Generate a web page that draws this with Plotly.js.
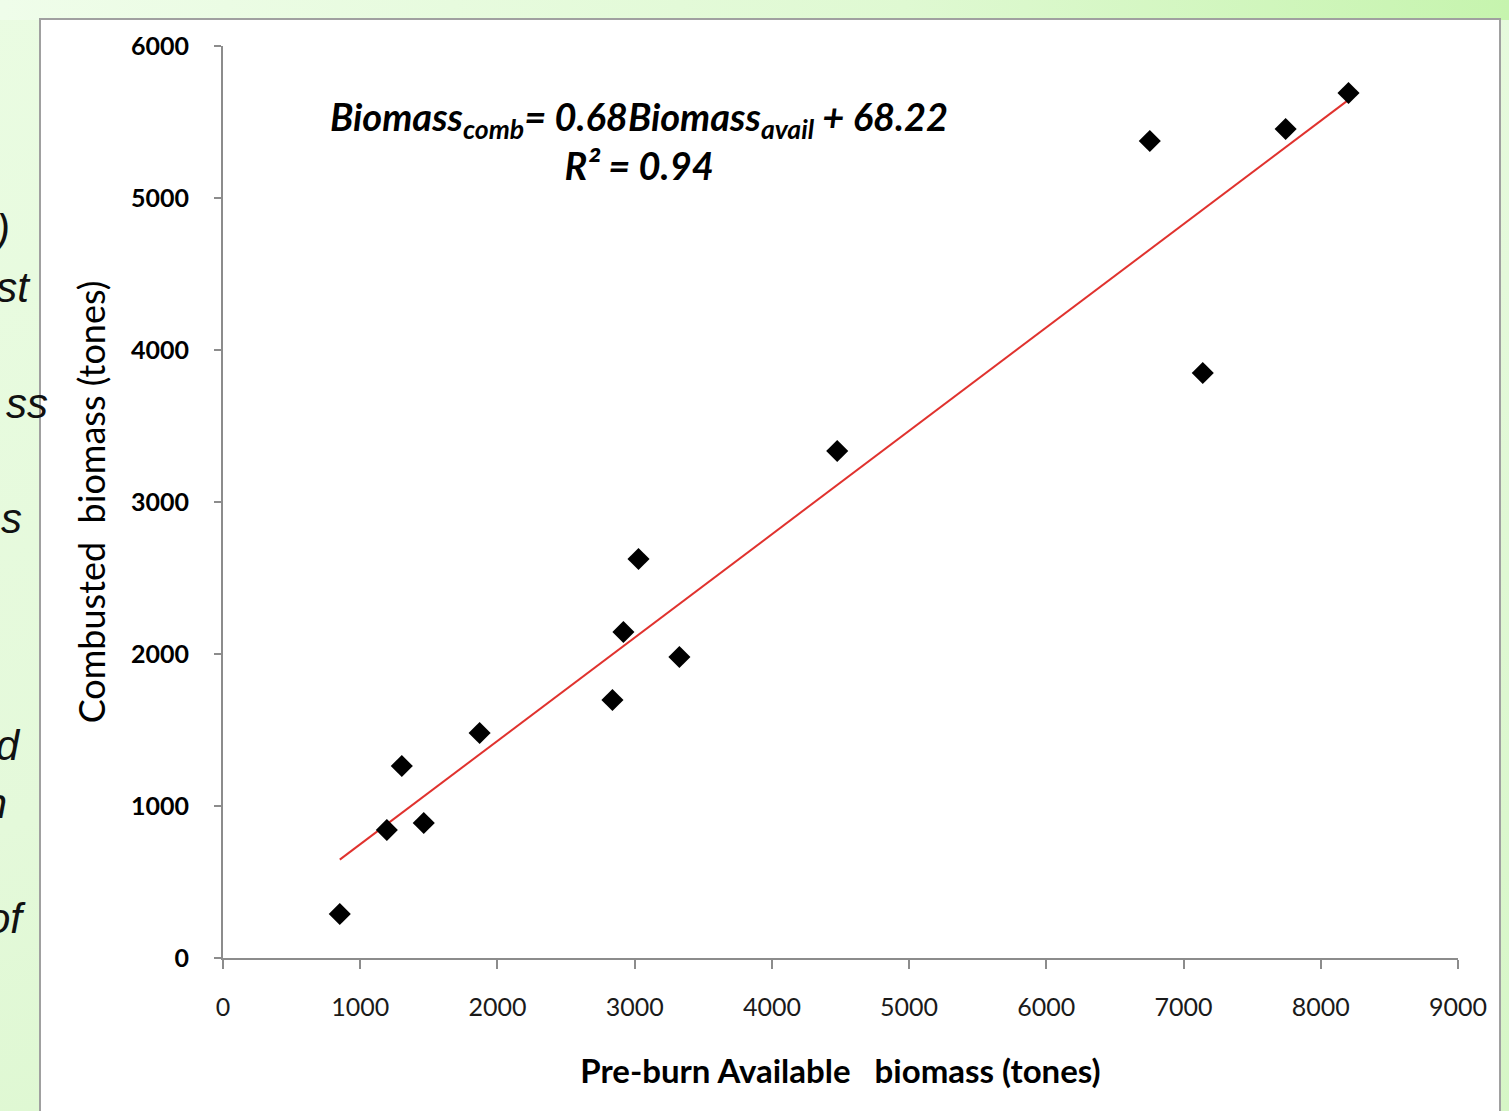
<!DOCTYPE html>
<html>
<head>
<meta charset="utf-8">
<script src="https://cdn.plot.ly/plotly-3.0.1.min.js"></script>
<style>
  html, body { margin:0; padding:0; }
  body {
    width:1509px; height:1111px; overflow:hidden; position:relative;
    background: linear-gradient(160deg, #eafce2 0%, #e4f9da 50%, #d6f6c6 100%);
  }
  #topband { position:absolute; left:0; top:0; width:1509px; height:20px;
    background: linear-gradient(90deg, #effdea 0%, #dff9d2 60%, #c6f4ae 100%); }
  #box { position:absolute; left:39px; top:18px; width:1462px; height:1120px;
    background:#ffffff; border:2px solid #a0a0a0; box-sizing:border-box; }
  #chart { position:absolute; left:0; top:0; width:1509px; height:1111px; }
  .frag { position:absolute; font-family:"Liberation Sans", Arial, sans-serif; font-style:italic;
    font-size:42px; color:#111; white-space:nowrap; text-align:right; z-index:5; }
</style>
</head>
<body>
<div id="topband"></div>
<div id="box"></div>
<div id="chart"></div>
<div class="frag" style="right:1499px; top:206px;">)</div>
<div class="frag" style="right:1480px; top:264px;">st</div>
<div class="frag" style="right:1461px; top:380px;">ss</div>
<div class="frag" style="right:1487px; top:495px;">s</div>
<div class="frag" style="right:1490px; top:722px;">d</div>
<div class="frag" style="right:1502px; top:780px;">h</div>
<div class="frag" style="right:1487px; top:895px;">of</div>
<script>
// Data
const preburnAvailable = [851, 1194, 1303, 1463, 1870, 2838, 2918, 3028, 3326, 4476, 6754, 7140, 7744, 8202];
const combustedBiomass = [289, 842, 1263, 888, 1480, 1697, 2145, 2625, 1980, 3336, 5375, 3849, 5454, 5691];
const slope = 0.68;
const intercept = 68.22;
const rSquared = 0.94;
const xTicks = [0, 1000, 2000, 3000, 4000, 5000, 6000, 7000, 8000, 9000];
const yTicks = [0, 1000, 2000, 3000, 4000, 5000, 6000];

const xMin = Math.min(...preburnAvailable);
const xMax = Math.max(...preburnAvailable);
const trendX = [xMin, xMax];
const trendY = trendX.map(v => slope * v + intercept);

const fontFam = 'Lato, "Open Sans", sans-serif';

const traces = [
  {
    x: trendX, y: trendY, type: 'scatter', mode: 'lines',
    line: { color: '#e0322e', width: 2 }, hoverinfo: 'skip', showlegend: false
  },
  {
    x: preburnAvailable, y: combustedBiomass, type: 'scatter', mode: 'markers',
    marker: { symbol: 'diamond', size: 17, color: '#000000' }, showlegend: false
  }
];

const layout = {
  width: 1509, height: 1111,
  margin: { l: 223, r: 51, t: 46, b: 153 },
  paper_bgcolor: 'rgba(0,0,0,0)',
  plot_bgcolor: 'rgba(0,0,0,0)',
  showlegend: false,
  xaxis: {
    range: [0, 9000], tickvals: xTicks, ticktext: xTicks.map(String),
    showgrid: false, zeroline: false, showline: true, linecolor: '#8c8c8c', linewidth: 2,
    ticks: 'outside', ticklen: 9, tickwidth: 2, tickcolor: '#8c8c8c',
    tickfont: { family: fontFam, size: 25, color: '#1a1a1a' },
    ticklabelstandoff: 17,
    automargin: false,
    title: { text: 'Pre-burn Available   biomass (tones)', standoff: 40,
      font: { family: fontFam, size: 33, color: '#000', weight: 'bold' } }
  },
  yaxis: {
    range: [0, 6000], tickvals: yTicks, ticktext: yTicks.map(String),
    showgrid: false, zeroline: false, showline: true, linecolor: '#8c8c8c', linewidth: 2,
    ticks: 'outside', ticklen: 7, tickwidth: 2, tickcolor: '#8c8c8c',
    tickfont: { family: fontFam, size: 25, color: '#000', weight: 'bold' },
    ticklabelstandoff: 20,
    automargin: false,
    title: { text: 'Combusted  biomass (tones)', standoff: 14,
      font: { family: fontFam, size: 36, color: '#000' } }
  },
  annotations: [
    {
      xref: 'paper', yref: 'paper', x: 0.337, y: 0.896, xanchor: 'center', yanchor: 'middle',
      showarrow: false, align: 'center',
      text: '<b><i>Biomass<sub>comb</sub>= ' + slope.toFixed(2) + 'Biomass<sub>avail</sub> + ' + intercept.toFixed(2) +
            '<br>R² = ' + rSquared.toFixed(2) + '</i></b>',
      font: { family: fontFam, size: 38, color: '#000' }
    }
  ]
};

Plotly.newPlot('chart', traces, layout, { displayModeBar: false, staticPlot: true });
</script>
</body>
</html>
